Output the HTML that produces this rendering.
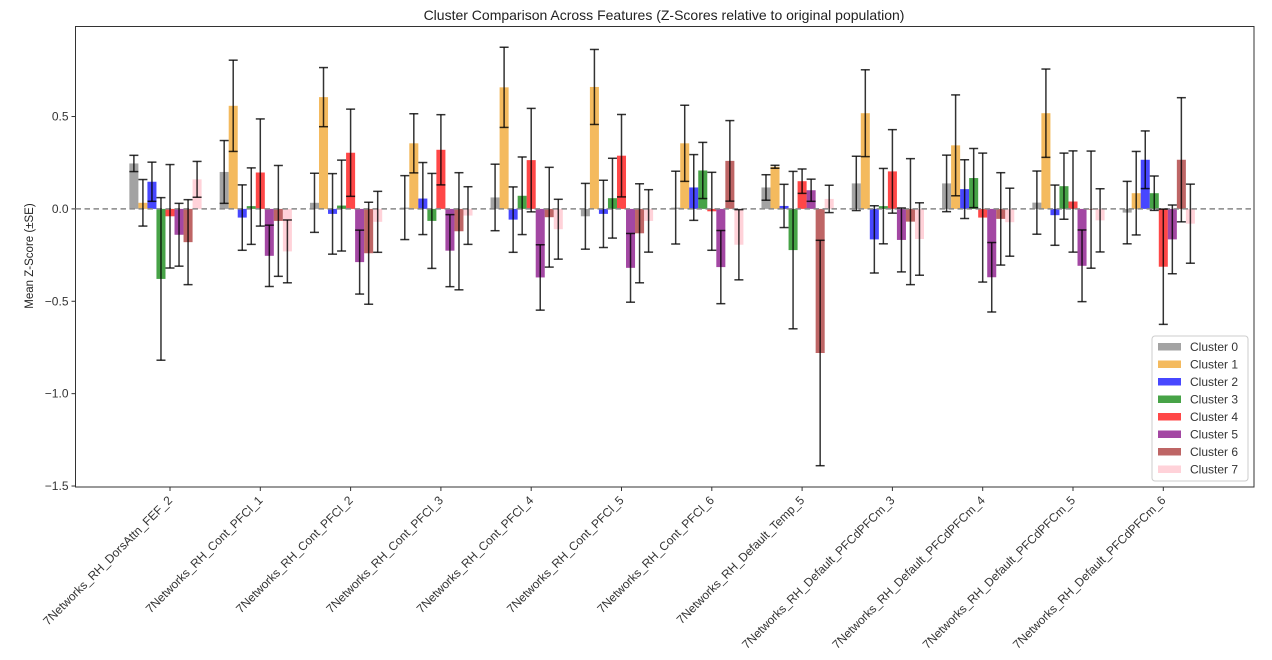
<!DOCTYPE html>
<html><head><meta charset="utf-8"><style>
body{margin:0;background:#fff;}
svg{display:block;font-family:"Liberation Sans","DejaVu Sans",sans-serif;}
</style></head><body>
<svg id="chart" width="1272" height="660" viewBox="0 0 1272 660">
<text x="664" y="20" text-anchor="middle" font-size="14" fill="#222">Cluster Comparison Across Features (Z-Scores relative to original population)</text>
<text transform="translate(33,256) rotate(-90)" text-anchor="middle" font-size="11.5" fill="#222">Mean Z-Score (±SE)</text>
<g id="plot"></g>
</svg>
<script>
const categories = ["7Networks_RH_DorsAttn_FEF_2","7Networks_RH_Cont_PFCl_1","7Networks_RH_Cont_PFCl_2","7Networks_RH_Cont_PFCl_3","7Networks_RH_Cont_PFCl_4","7Networks_RH_Cont_PFCl_5","7Networks_RH_Cont_PFCl_6","7Networks_RH_Default_Temp_5","7Networks_RH_Default_PFCdPFCm_3","7Networks_RH_Default_PFCdPFCm_4","7Networks_RH_Default_PFCdPFCm_5","7Networks_RH_Default_PFCdPFCm_6"];
const seriesNames = ["Cluster 0","Cluster 1","Cluster 2","Cluster 3","Cluster 4","Cluster 5","Cluster 6","Cluster 7"];
const seriesColors = ["#808080","#f0a020","#0000ff","#008000","#ff0000","#800080","#a52a2a","#ffc0cb"];
const cluster0 = [0.246,0.20,0.033,0.007,0.062,-0.04,0.007,0.116,0.138,0.138,0.034,-0.02];
const cluster1 = [0.033,0.558,0.605,0.355,0.658,0.66,0.355,0.228,0.518,0.344,0.518,0.085];
const cluster2 = [0.147,-0.047,-0.027,0.056,-0.058,-0.027,0.116,0.016,-0.165,0.107,-0.034,0.266];
const cluster3 = [-0.379,0.015,0.018,-0.065,0.071,0.058,0.208,-0.223,0.015,0.167,0.123,0.085];
const cluster4 = [-0.04,0.197,0.304,0.32,0.264,0.288,-0.013,0.15,0.203,-0.047,0.04,-0.313];
const cluster5 = [-0.14,-0.254,-0.288,-0.226,-0.371,-0.319,-0.315,0.101,-0.168,-0.37,-0.308,-0.165];
const cluster6 = [-0.18,-0.065,-0.24,-0.121,-0.045,-0.132,0.26,-0.78,-0.069,-0.054,-0.004,0.266];
const cluster7 = [0.16,-0.23,-0.07,-0.036,-0.11,-0.065,-0.194,0.054,-0.163,-0.072,-0.062,-0.08];
const se0 = [0.044,0.17,0.16,0.173,0.18,0.178,0.197,0.069,0.147,0.153,0.171,0.169];
const se1 = [0.126,0.247,0.16,0.16,0.217,0.203,0.206,0.008,0.235,0.273,0.239,0.226];
const se2 = [0.106,0.177,0.218,0.195,0.177,0.182,0.178,0.117,0.182,0.159,0.163,0.156];
const se3 = [0.44,0.207,0.246,0.257,0.21,0.216,0.152,0.426,0.204,0.16,0.179,0.093];
const se4 = [0.28,0.29,0.236,0.19,0.28,0.223,0.211,0.066,0.226,0.349,0.274,0.312];
const se5 = [0.17,0.166,0.173,0.195,0.177,0.186,0.198,0.06,0.173,0.188,0.194,0.186];
const se6 = [0.23,0.30,0.276,0.317,0.27,0.268,0.218,0.61,0.341,0.25,0.317,0.336];
const se7 = [0.097,0.17,0.165,0.156,0.162,0.169,0.19,0.074,0.196,0.184,0.171,0.214];
const yTicks = [-1.5,-1.0,-0.5,0.0,0.5];
const yTickLabels = ["\u22121.5","\u22121.0","\u22120.5","0.0","0.5"];

const means = [cluster0,cluster1,cluster2,cluster3,cluster4,cluster5,cluster6,cluster7];
const errs = [se0,se1,se2,se3,se4,se5,se6,se7];
const NS="http://www.w3.org/2000/svg";
const L=75.5,R=1254,T=26.5,B=487;
const Y0=208.9,YS=184.75;
function y(v){return Y0 - v*YS;}
const X0=170,XS=90.3;
function x(i){return X0 + i*XS;}
const plot=document.getElementById('plot');
function mk(tag,attrs,parent){const e=document.createElementNS(NS,tag);for(const k in attrs)e.setAttribute(k,attrs[k]);(parent||plot).appendChild(e);return e;}

const frame=mk('rect',{x:L,y:T,width:R-L,height:B-T,fill:'none',stroke:'#333','stroke-width':1});



yTicks.forEach((t,k)=>{
  const g=mk('g',{});
  
  
  mk('line',{x1:L-4,x2:L,y1:y(t),y2:y(t),stroke:'#333'},g);
  const tx=mk('text',{x:L-7,y:y(t)+4,'text-anchor':'end','font-size':12,fill:'#333'},g);
  tx.textContent=yTickLabels[k];
});

categories.forEach((c,i)=>{
  const g=mk('g',{});
  
  
  mk('line',{x1:x(i),x2:x(i),y1:B,y2:B+4,stroke:'#333'},g);
  const tx=mk('text',{x:0,y:0,'text-anchor':'end','font-size':12,fill:'#333',transform:`translate(${x(i)+3},${B+14}) rotate(-45)`},g);
  tx.textContent=c;
});

const bw=XS*0.1;
means.forEach((arr,s)=>{
  arr.forEach((v,i)=>{
    const cx=x(i)+(s-4)*bw;
    const r=mk('rect',{x:cx-bw/2,y:Math.min(y(v),y(0)),width:bw,height:Math.abs(y(v)-y(0)),fill:seriesColors[s],'fill-opacity':0.72});
    
    
  });
});
const zl=mk('line',{x1:L,x2:R,y1:y(0),y2:y(0),stroke:'#888','stroke-width':1.5,'stroke-dasharray':'5.5,3.5'});


means.forEach((arr,s)=>{
  arr.forEach((v,i)=>{
    const cx=x(i)+(s-4)*bw;
    const e=errs[s][i];
    const g=mk('g',{stroke:'#000','stroke-opacity':0.8,'stroke-width':1.5});
    
    
    mk('line',{x1:cx,x2:cx,y1:y(v+e),y2:y(v-e)},g);
    mk('line',{x1:cx-4.5,x2:cx+4.5,y1:y(v+e),y2:y(v+e)},g);
    mk('line',{x1:cx-4.5,x2:cx+4.5,y1:y(v-e),y2:y(v-e)},g);
  });
});

const lg=mk('g',{});


mk('rect',{x:1152,y:336,width:96,height:145,rx:3,fill:'#fff','fill-opacity':0.85,stroke:'#ccc'},lg);
seriesNames.forEach((n,s)=>{
  const g=mk('g',{},lg);
  
  
  const yy=346.5+s*17.5;
  mk('rect',{x:1158,y:yy-3.5,width:23,height:7.5,fill:seriesColors[s],'fill-opacity':0.72},g);
  const t=mk('text',{x:1190,y:yy+4.5,'font-size':12,fill:'#333'},g);
  t.textContent=n;
});
</script>
</body></html>
